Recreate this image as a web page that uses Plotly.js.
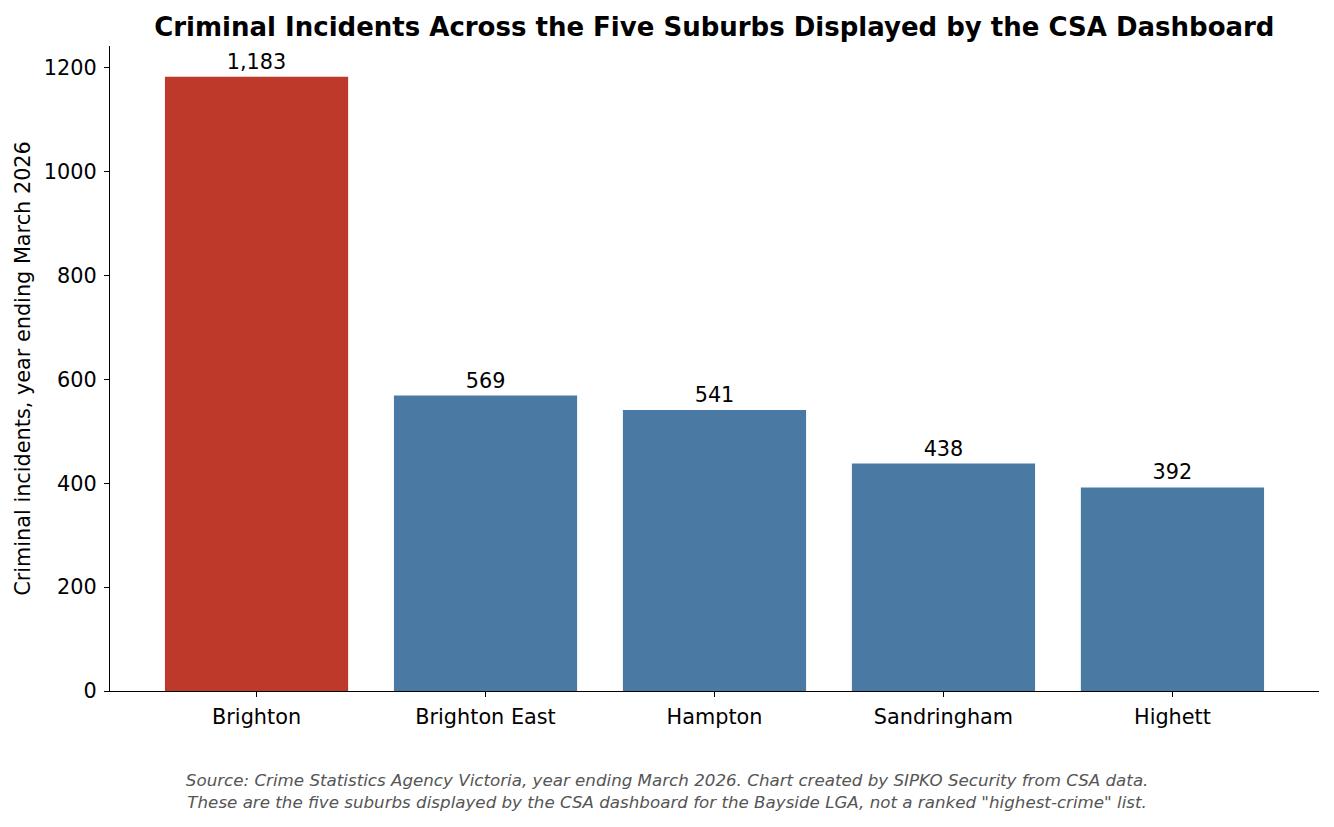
<!DOCTYPE html>
<html>
<head>
<meta charset="utf-8">
<script src="https://cdn.plot.ly/plotly-3.0.1.min.js"></script>
<style>
  body { margin: 0; background: #fff; }
  #chart { width: 1334px; height: 827px; }
</style>
</head>
<body>
<div id="chart"></div>
<script>
const suburbs = ['Brighton', 'Brighton East', 'Hampton', 'Sandringham', 'Highett'];
const incidents = [1183, 569, 541, 438, 392];
const barColors = ['#bd3a2a', '#4a7aa4', '#4a7aa4', '#4a7aa4', '#4a7aa4'];
const yTicks = [0, 200, 400, 600, 800, 1000, 1200];

const font = 'DejaVu Sans, sans-serif';
const fs = 20.8;

const trace = {
  x: suburbs.map((s, i) => i),
  y: incidents,
  type: 'bar',
  width: 0.8,
  marker: { color: barColors },
  texttemplate: '%{y:,}',
  textposition: 'outside',
  cliponaxis: false,
  textfont: { family: font, size: fs, color: '#000' },
  hoverinfo: 'skip',
};

const layout = {
  width: 1334,
  height: 827,
  margin: { l: 110, r: 15, t: 46, b: 136 },
  paper_bgcolor: '#fff',
  plot_bgcolor: '#fff',
  font: { family: font, size: fs, color: '#000' },
  showlegend: false,
  title: {
    text: '<b>Criminal Incidents Across the Five Suburbs Displayed by the CSA Dashboard</b>',
    font: { family: font, size: 26, color: '#000' },
    x: 0.5355,
    xanchor: 'center',
    y: 1 - 27 / 827,
    yanchor: 'middle',
  },
  xaxis: {
    range: [-0.64, 4.64],
    tickvals: suburbs.map((s, i) => i),
    ticktext: suburbs,
    showgrid: false,
    zeroline: false,
    showline: true,
    linecolor: '#000',
    linewidth: 1.2,
    ticks: 'outside',
    ticklen: 5,
    tickcolor: '#000',
    ticklabelstandoff: 2,
    tickfont: { family: font, size: fs, color: '#000' },
  },
  yaxis: {
    range: [0, 1242],
    tickvals: yTicks,
    ticktext: yTicks.map(String),
    showgrid: false,
    zeroline: false,
    showline: true,
    linecolor: '#000',
    linewidth: 1.2,
    ticks: 'outside',
    ticklen: 5,
    tickcolor: '#000',
    ticklabelstandoff: 3,
    tickfont: { family: font, size: fs, color: '#000' },
    title: {
      text: 'Criminal incidents, year ending March 2026',
      font: { family: font, size: fs, color: '#000' },
      standoff: 7,
    },
  },
  annotations: [{
    xref: 'paper',
    yref: 'paper',
    x: (667 - 110) / 1209,
    y: -(791 - 691) / 645,
    xanchor: 'center',
    yanchor: 'middle',
    showarrow: false,
    align: 'center',
    text: 'Source: Crime Statistics Agency Victoria, year ending March 2026. Chart created by SIPKO Security from CSA data.<br>' +
      'These are the five suburbs displayed by the CSA dashboard for the Bayside LGA, not a ranked "highest-crime" list.',
    font: { family: font, size: 16.7, color: '#555' },
  }],
};

Plotly.newPlot('chart', [trace], layout, { staticPlot: true });

// italic footer
document.querySelectorAll('.annotation-text').forEach((el) => {
  el.style.fontStyle = 'italic';
});
</script>
</body>
</html>
